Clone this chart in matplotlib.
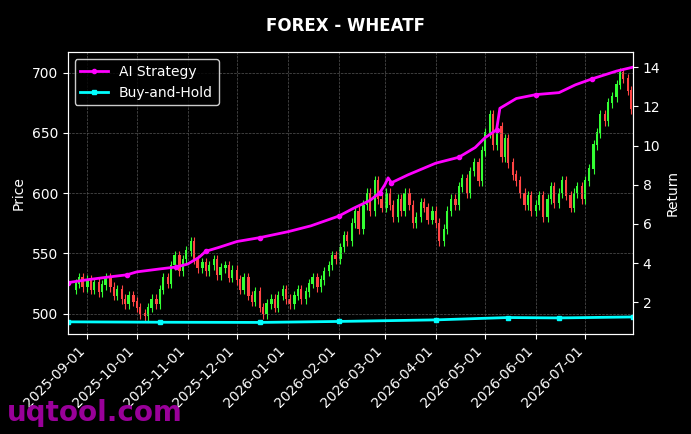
import matplotlib
matplotlib.use('Agg')
import matplotlib.pyplot as plt
import matplotlib.dates as mdates
import numpy as np
import pandas as pd

# closes on Mon/Wed/Fri, per month
aug = [525, 530, 522]
sep = [528, 520, 526, 518, 524, 530, 522, 515, 520, 512, 508, 515, 510]
oct_ = [505, 500, 498, 505, 512, 508, 520, 530, 525, 540, 548, 535, 545, 552]
nov = [560, 545, 538, 542, 535, 540, 545, 532, 538, 540, 530, 536]
dec = [528, 520, 530, 515, 510, 518, 505, 500, 508, 512, 505, 515, 520, 512]
jan = [508, 515, 520, 512, 518, 525, 530, 522, 528, 535, 540, 548, 545]
feb = [555, 565, 560, 575, 585, 570, 590, 600, 585, 610, 595, 588]
mar = [600, 590, 580, 595, 585, 600, 590, 575, 580, 592, 588, 578, 585]
apr = [575, 560, 570, 585, 595, 590, 605, 612, 600, 618, 625, 610, 635]
may = [650, 665, 640, 655, 630, 645, 625, 615, 610, 600, 590, 598, 585]
jun = [590, 598, 580, 595, 605, 592, 600, 610, 598, 588, 600, 605, 595]
jul = [610, 620, 640, 650, 665, 660, 675, 680, 690, 700, 695, 685, 670, 665]
closes = aug + sep + oct_ + nov + dec + jan + feb + mar + apr + may + jun + jul
first_open = 520

ai_dates = ['2025-08-20', '2025-09-01', '2025-09-15', '2025-09-25', '2025-10-01', '2025-10-15',
            '2025-10-25', '2025-11-01', '2025-11-08', '2025-11-12', '2025-11-20', '2025-12-01',
            '2025-12-15', '2026-01-01', '2026-01-15', '2026-02-01', '2026-02-10', '2026-02-20',
            '2026-02-26', '2026-03-01', '2026-03-03', '2026-03-05', '2026-03-15', '2026-04-01',
            '2026-04-15', '2026-04-25', '2026-05-01', '2026-05-08', '2026-05-10', '2026-05-20',
            '2026-06-01', '2026-06-15', '2026-06-25', '2026-07-05', '2026-07-20', '2026-07-30']
ai_ret = [3.0, 3.15, 3.3, 3.4, 3.55, 3.7, 3.8, 3.95, 4.3, 4.6, 4.8, 5.1, 5.3, 5.6, 5.9, 6.4,
          6.8, 7.2, 7.6, 8.0, 8.35, 8.1, 8.5, 9.1, 9.4, 9.9, 10.4, 10.8, 11.9, 12.4, 12.6,
          12.7, 13.1, 13.4, 13.8, 14.0]
bh_dates = ['2025-08-20', '2025-10-15', '2025-12-15', '2026-02-01', '2026-04-01',
            '2026-05-15', '2026-06-15', '2026-07-30']
bh_ret = [1.0, 0.98, 0.97, 1.02, 1.10, 1.22, 1.20, 1.25]

dates = pd.bdate_range('2025-08-25', '2026-07-31', freq='C', weekmask='Mon Wed Fri')
n = min(len(dates), len(closes))
dates = dates[:n]
closes = np.array(closes[:n], dtype=float)
opens = np.concatenate([[first_open], closes[:-1]])
highs = np.maximum(opens, closes) + 4
lows = np.minimum(opens, closes) - 4
up = closes >= opens

fig = plt.figure(figsize=(6.91, 4.34), dpi=100, facecolor='black')
ax = fig.add_axes([0.098, 0.23, 0.818, 0.65], facecolor='black')
ax.grid(True, color='#555555', linestyle='--', linewidth=0.5)
cols = np.where(up, '#33ff33', '#ff4444')
ax.vlines(dates, lows, highs, colors=cols, linewidth=0.8)
ax.bar(dates, np.abs(closes - opens) + 0.5, bottom=np.minimum(opens, closes),
       width=1.3, color=cols)
ax.set_ylim(483, 717)
ax.set_xlim(pd.Timestamp('2025-08-20'), pd.Timestamp('2026-07-30'))
ax.set_ylabel('Price', color='white')
ax.xaxis.set_major_locator(mdates.MonthLocator())
ax.xaxis.set_major_formatter(mdates.DateFormatter('%Y-%m-%d'))
plt.setp(ax.get_xticklabels(), rotation=45, ha='right')

ax2 = ax.twinx()
ax2.plot(pd.to_datetime(ai_dates), ai_ret, color='#ff00ff', linewidth=2,
         marker='o', markersize=3, markevery=3, label='AI Strategy')
ax2.plot(pd.to_datetime(bh_dates), bh_ret, color='#00ffff', linewidth=2,
         marker='s', markersize=3, label='Buy-and-Hold')
ax2.set_ylim(0.37, 14.77)
ax2.set_ylabel('Return', color='white')

for a in (ax, ax2):
    a.tick_params(colors='white')
    for s in a.spines.values():
        s.set_color('white')

leg = ax2.legend(loc='upper left', facecolor='black', edgecolor='white')
for t in leg.get_texts():
    t.set_color('white')

fig.suptitle('FOREX - WHEATF', color='white', fontweight='bold', y=0.96)
fig.text(0.01, 0.03, 'uqtool.com', color='#990099', fontsize=20, fontweight='bold')
fig.savefig('out.png', dpi=100, facecolor='black')
